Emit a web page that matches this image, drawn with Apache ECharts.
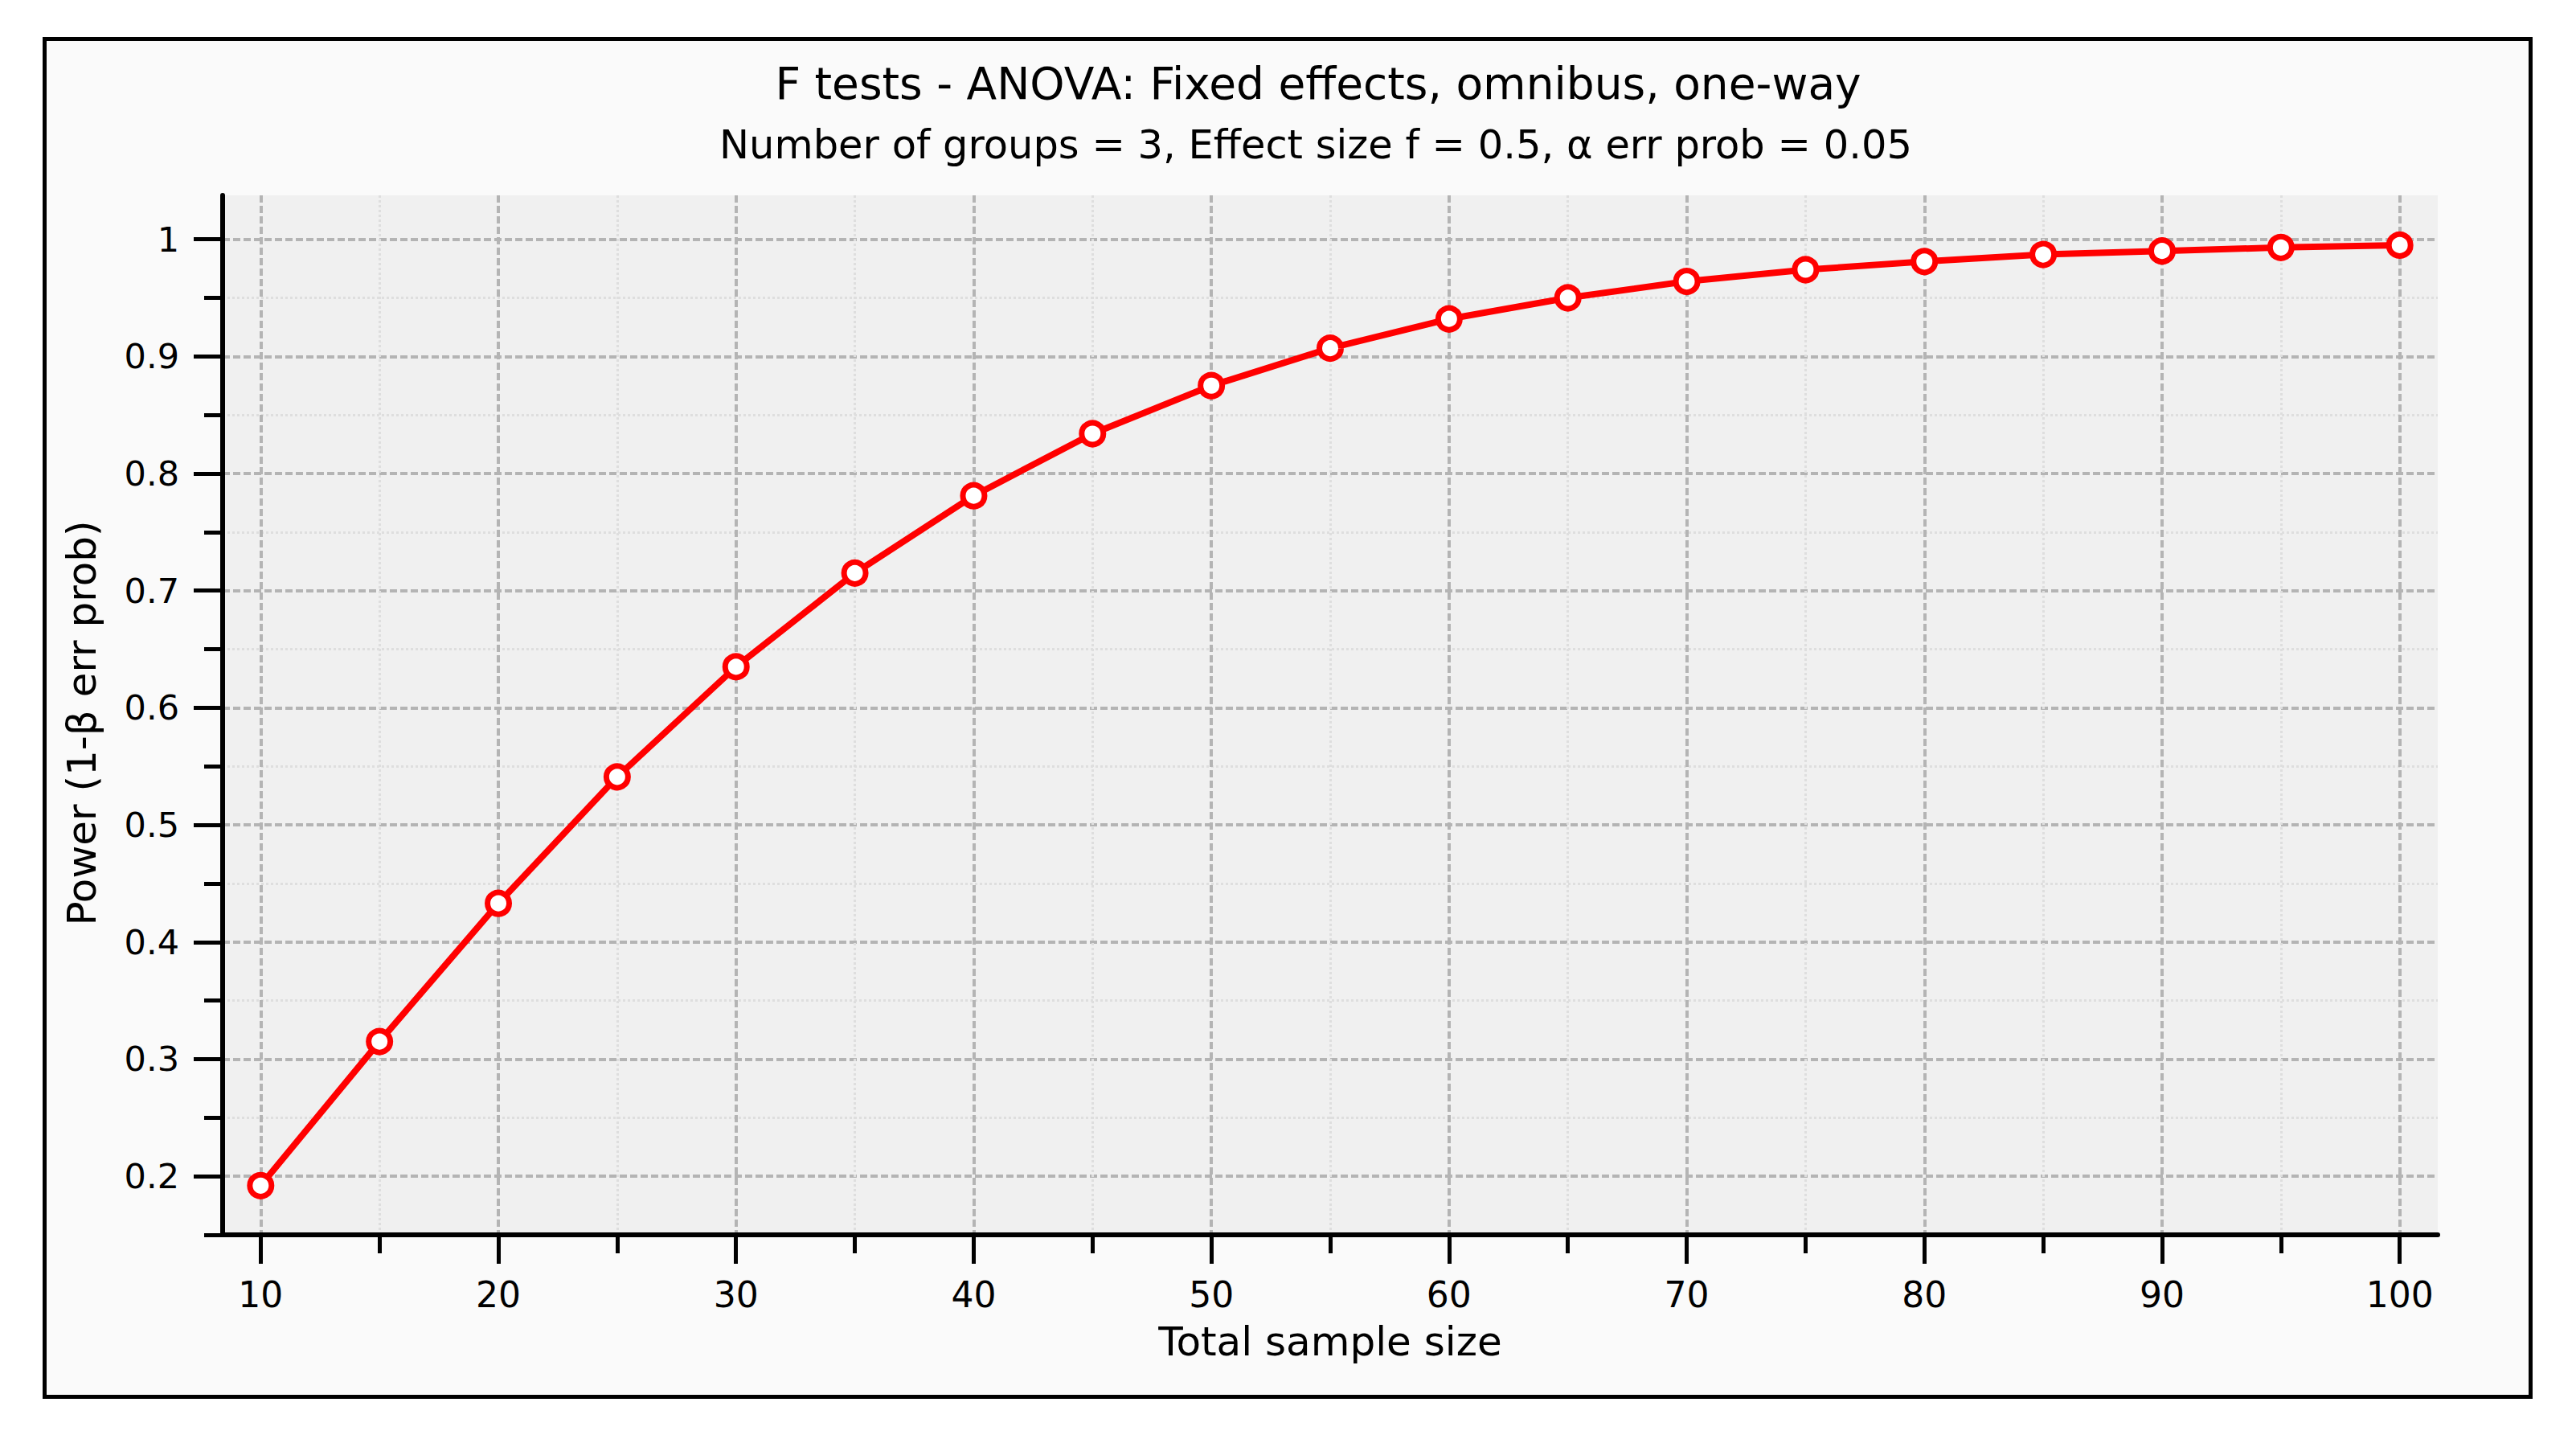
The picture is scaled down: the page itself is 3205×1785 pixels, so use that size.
<!DOCTYPE html>
<html>
<head>
<meta charset="utf-8">
<script src="https://cdn.jsdelivr.net/npm/echarts@6/dist/echarts.min.js"></script>
<style>
  html, body { margin: 0; padding: 0; background: #ffffff; }
  #chart { width: 3205px; height: 1785px; }
</style>
</head>
<body>
<div id="chart"></div>
<script>
const titleText = 'F tests - ANOVA: Fixed effects, omnibus, one-way';
const subtitleText = 'Number of groups = 3, Effect size f = 0.5, \u03b1 err prob = 0.05';
const xAxisTitle = 'Total sample size';
const yAxisTitle = 'Power (1-\u03b2 err prob)';

const sampleSizes = [10, 15, 20, 25, 30, 35, 40, 45, 50, 55, 60, 65, 70, 75, 80, 85, 90, 95, 100];
const power = [0.192, 0.315, 0.433, 0.541, 0.635, 0.715, 0.781, 0.834, 0.875, 0.907, 0.932, 0.950, 0.964, 0.974, 0.981, 0.987, 0.990, 0.993, 0.995];

const xMajorTicks = [10, 20, 30, 40, 50, 60, 70, 80, 90, 100];
const xMinorTicks = [15, 25, 35, 45, 55, 65, 75, 85, 95];
const yMajorTicks = [0.2, 0.3, 0.4, 0.5, 0.6, 0.7, 0.8, 0.9, 1];
const yTickLabels = ['0.2', '0.3', '0.4', '0.5', '0.6', '0.7', '0.8', '0.9', '1'];
const yMinorTicks = [0.15, 0.25, 0.35, 0.45, 0.55, 0.65, 0.75, 0.85, 0.95];

const FONT = '"DejaVu Sans", Verdana, sans-serif';
const chart = echarts.init(document.getElementById('chart'), null, { renderer: 'svg' });

const majorGrid = { show: true, lineStyle: { color: '#b4b4b4', width: 4, type: [9, 4] } };
const minorGrid = { show: true, lineStyle: { color: '#dedede', width: 3, type: [3, 3] } };

function yLabel(v) {
  const i = yMajorTicks.findIndex(t => Math.abs(t - v) < 1e-6);
  return i >= 0 ? yTickLabels[i] : '';
}

const option = {
  backgroundColor: 'transparent',
  animation: false,
  graphic: [
    {
      type: 'rect', z: -10, silent: true,
      shape: { x: 55.5, y: 48.5, width: 3093, height: 1689 },
      style: { fill: '#fafafa', stroke: '#000000', lineWidth: 5 }
    },
    {
      type: 'text', x: 1640, y: 104,
      style: { text: titleText, font: '55px ' + FONT, fill: '#000', align: 'center', verticalAlign: 'middle' }
    },
    {
      type: 'text', x: 1637, y: 180,
      style: { text: subtitleText, font: '49.5px ' + FONT, fill: '#000', align: 'center', verticalAlign: 'middle' }
    }
  ],
  grid: {
    left: 277, top: 243, width: 2756, height: 1293,
    show: true, backgroundColor: '#f0f0f0', borderWidth: 0,
    containLabel: false, outerBoundsMode: 'none'
  },
  xAxis: [
    {
      type: 'value', position: 'bottom', min: 8.4, max: 101.6,
      name: xAxisTitle, nameLocation: 'middle', nameGap: 108,
      nameTextStyle: { fontFamily: FONT, fontSize: 50, color: '#000' },
      axisLine: { show: true, onZero: false, lineStyle: { color: '#000', width: 6 } },
      axisTick: { show: true, inside: false, length: 36, customValues: xMajorTicks, lineStyle: { color: '#000', width: 5 } },
      axisLabel: { show: true, margin: 52, customValues: xMajorTicks, fontFamily: FONT, fontSize: 44, color: '#000' },
      splitLine: majorGrid
    },
    {
      type: 'value', position: 'bottom', min: 8.4, max: 101.6,
      axisLine: { show: false, onZero: false },
      axisTick: { show: true, inside: false, length: 23, customValues: xMinorTicks, lineStyle: { color: '#000', width: 5 } },
      axisLabel: { show: false, customValues: xMinorTicks },
      splitLine: minorGrid
    }
  ],
  yAxis: [
    {
      type: 'value', position: 'left', min: 0.15, max: 1.0375,
      name: yAxisTitle, nameLocation: 'middle', nameGap: 150, nameRotate: 90,
      nameTextStyle: { fontFamily: FONT, fontSize: 50, color: '#000', padding: [0, 20, 0, 0] },
      axisLine: { show: true, onZero: false, lineStyle: { color: '#000', width: 6 } },
      axisTick: { show: true, inside: false, length: 36, customValues: yMajorTicks, lineStyle: { color: '#000', width: 5 } },
      axisLabel: { show: true, margin: 54, customValues: yMajorTicks, formatter: yLabel, fontFamily: FONT, fontSize: 43, color: '#000', padding: [8, 0, 0, 0] },
      splitLine: majorGrid
    },
    {
      type: 'value', position: 'left', min: 0.15, max: 1.0375,
      axisLine: { show: false, onZero: false },
      axisTick: { show: true, inside: false, length: 23, customValues: yMinorTicks, lineStyle: { color: '#000', width: 5 } },
      axisLabel: { show: false, customValues: yMinorTicks },
      splitLine: minorGrid
    }
  ],
  series: [
    {
      type: 'line', xAxisIndex: 0, yAxisIndex: 0,
      data: sampleSizes.map((n, i) => [n, power[i]]),
      symbol: 'circle', symbolSize: 27, clip: false,
      lineStyle: { color: '#ff0000', width: 8 },
      itemStyle: { color: '#ffffff', borderColor: '#ff0000', borderWidth: 7 },
      z: 10
    }
  ]
};
chart.setOption(option);
</script>
</body>
</html>
